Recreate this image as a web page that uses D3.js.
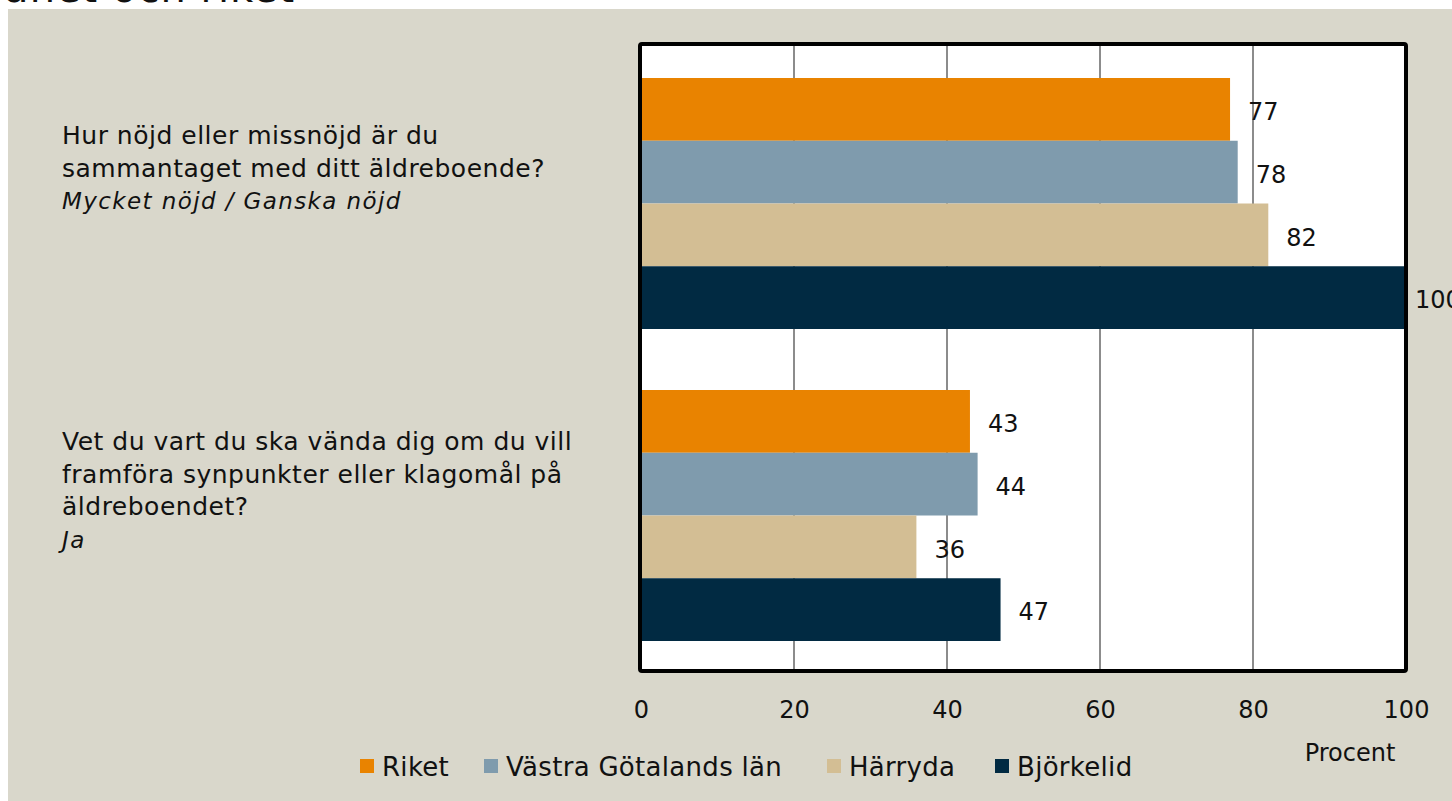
<!DOCTYPE html>
<html>
<head>
<meta charset="utf-8">
<script src="https://cdn.jsdelivr.net/npm/d3@7"></script>
<style>
  html, body { margin: 0; padding: 0; background: #ffffff; overflow: hidden; }
  text { font-family: "DejaVu Sans", sans-serif; fill: #111; }
</style>
</head>
<body>
<div id="chart"></div>
<script>
// Data
const questions = ["q1", "q2"];
const questionLines = [
  ["Hur nöjd eller missnöjd är du", "sammantaget med ditt äldreboende?"],
  ["Vet du vart du ska vända dig om du vill", "framföra synpunkter eller klagomål på", "äldreboendet?"]
];
const answerLabels = ["Mycket nöjd / Ganska nöjd", "Ja"];
const series = ["Riket", "Västra Götalands län", "Härryda", "Björkelid"];
const values = {
  "Riket": [77, 43],
  "Västra Götalands län": [78, 44],
  "Härryda": [82, 36],
  "Björkelid": [100, 47]
};
const xTicks = [0, 20, 40, 60, 80, 100];
const colors = ["#e98300", "#7f9bad", "#d3be94", "#012a42"];

// Base variables
const w = 1452;
const h = 801;
const plot = { left: 641, right: 1406, top: 46, bottom: 670 };

const svg = d3
  .select("#chart")
  .append("svg")
  .attr("width", w)
  .attr("height", h);

// clipped title from above
svg.append("text")
  .attr("x", -8)
  .attr("y", 2)
  .style("font-size", "40px")
  .style("letter-spacing", "1px")
  .text("länet och riket");

// page background
svg.append("rect").attr("x", 8).attr("y", 9).attr("width", w - 8).attr("height", h - 9).attr("fill", "#d9d7cb");

// Scales
const xScale = d3.scaleLinear().domain([0, 100]).range([plot.left, plot.right]);
const yScale = d3.scaleBand().domain(questions).range([plot.top, plot.bottom]);
const ySub = d3.scaleBand().domain(series).range([32, 283]);
const color = d3.scaleOrdinal().domain(series).range(colors);

// plot area
svg.append("rect")
  .attr("x", plot.left)
  .attr("y", plot.top)
  .attr("width", plot.right - plot.left)
  .attr("height", plot.bottom - plot.top)
  .attr("fill", "#ffffff");

// gridlines
svg.append("g")
  .selectAll("line")
  .data(xTicks.slice(1, -1))
  .enter()
  .append("line")
  .attr("x1", d => xScale(d))
  .attr("x2", d => xScale(d))
  .attr("y1", plot.top)
  .attr("y2", plot.bottom)
  .attr("stroke", "#8c8c8c")
  .attr("stroke-width", 2);

// bars
const groups = svg.append("g")
  .selectAll("g")
  .data(questions)
  .enter()
  .append("g")
  .attr("transform", d => `translate(0, ${yScale(d)})`);

groups.selectAll("rect")
  .data((q, qi) => series.map(s => ({ s, v: values[s][qi] })))
  .enter()
  .append("rect")
  .attr("x", xScale(0))
  .attr("y", d => ySub(d.s))
  .attr("width", d => xScale(d.v) - xScale(0))
  .attr("height", ySub.bandwidth())
  .attr("fill", d => color(d.s));

// value labels (the full bar's label sits tighter to the frame)
groups.selectAll("text.val")
  .data((q, qi) => series.map(s => ({ s, v: values[s][qi] })))
  .enter()
  .append("text")
  .attr("class", "val")
  .attr("x", d => xScale(d.v) + (d.v === 100 ? 9 : 18))
  .attr("y", d => ySub(d.s) + ySub.bandwidth() / 2 + 2)
  .attr("dy", "0.36em")
  .style("font-size", "24px")
  .text(d => d.v);

// frame
svg.append("rect")
  .attr("x", plot.left - 1)
  .attr("y", plot.top - 2)
  .attr("width", plot.right - plot.left + 1)
  .attr("height", plot.bottom - plot.top + 3)
  .attr("fill", "none")
  .attr("stroke", "#000")
  .attr("stroke-width", 4)
  .attr("rx", 2);

// x-axis labels
const xAxis = d3.axisBottom(xScale).tickValues(xTicks).tickSize(0).tickPadding(0);
const axisG = svg.append("g")
  .attr("transform", `translate(0, 701)`)
  .call(xAxis);
axisG.select(".domain").remove();
axisG.selectAll("text")
  .attr("fill", "#111")
  .style("font-size", "24px")
  .style("font-family", "DejaVu Sans, sans-serif");

svg.append("text")
  .attr("x", 1350)
  .attr("y", 761)
  .attr("text-anchor", "middle")
  .style("font-size", "24px")
  .text("Procent");

// category labels
questions.forEach((q, qi) => {
  const lines = questionLines[qi];
  const startY = qi === 0 ? 144 : 450;
  lines.forEach((line, li) => {
    svg.append("text")
      .attr("x", 62)
      .attr("y", startY + li * 32.5)
      .style("font-size", "25px")
      .style("letter-spacing", "0.5px")
      .text(line);
  });
  svg.append("text")
    .attr("x", 62)
    .attr("y", startY + lines.length * 32.5)
    .style("font-size", "23px")
    .style("font-style", "italic")
    .style("letter-spacing", "1.4px")
    .text(answerLabels[qi]);
});

// legend
const legendX = [360, 484, 827, 995];
const legend = svg.append("g")
  .selectAll("g")
  .data(series)
  .enter()
  .append("g")
  .attr("transform", (d, i) => `translate(${legendX[i]}, 767)`);

legend.append("rect")
  .attr("x", 0)
  .attr("y", -8)
  .attr("width", 14)
  .attr("height", 14)
  .attr("fill", d => color(d));

legend.append("text")
  .attr("x", 22)
  .attr("y", 0)
  .attr("dy", "0.36em")
  .style("font-size", "26px")
  .style("letter-spacing", "0.3px")
  .text(d => d);
</script>
</body>
</html>
